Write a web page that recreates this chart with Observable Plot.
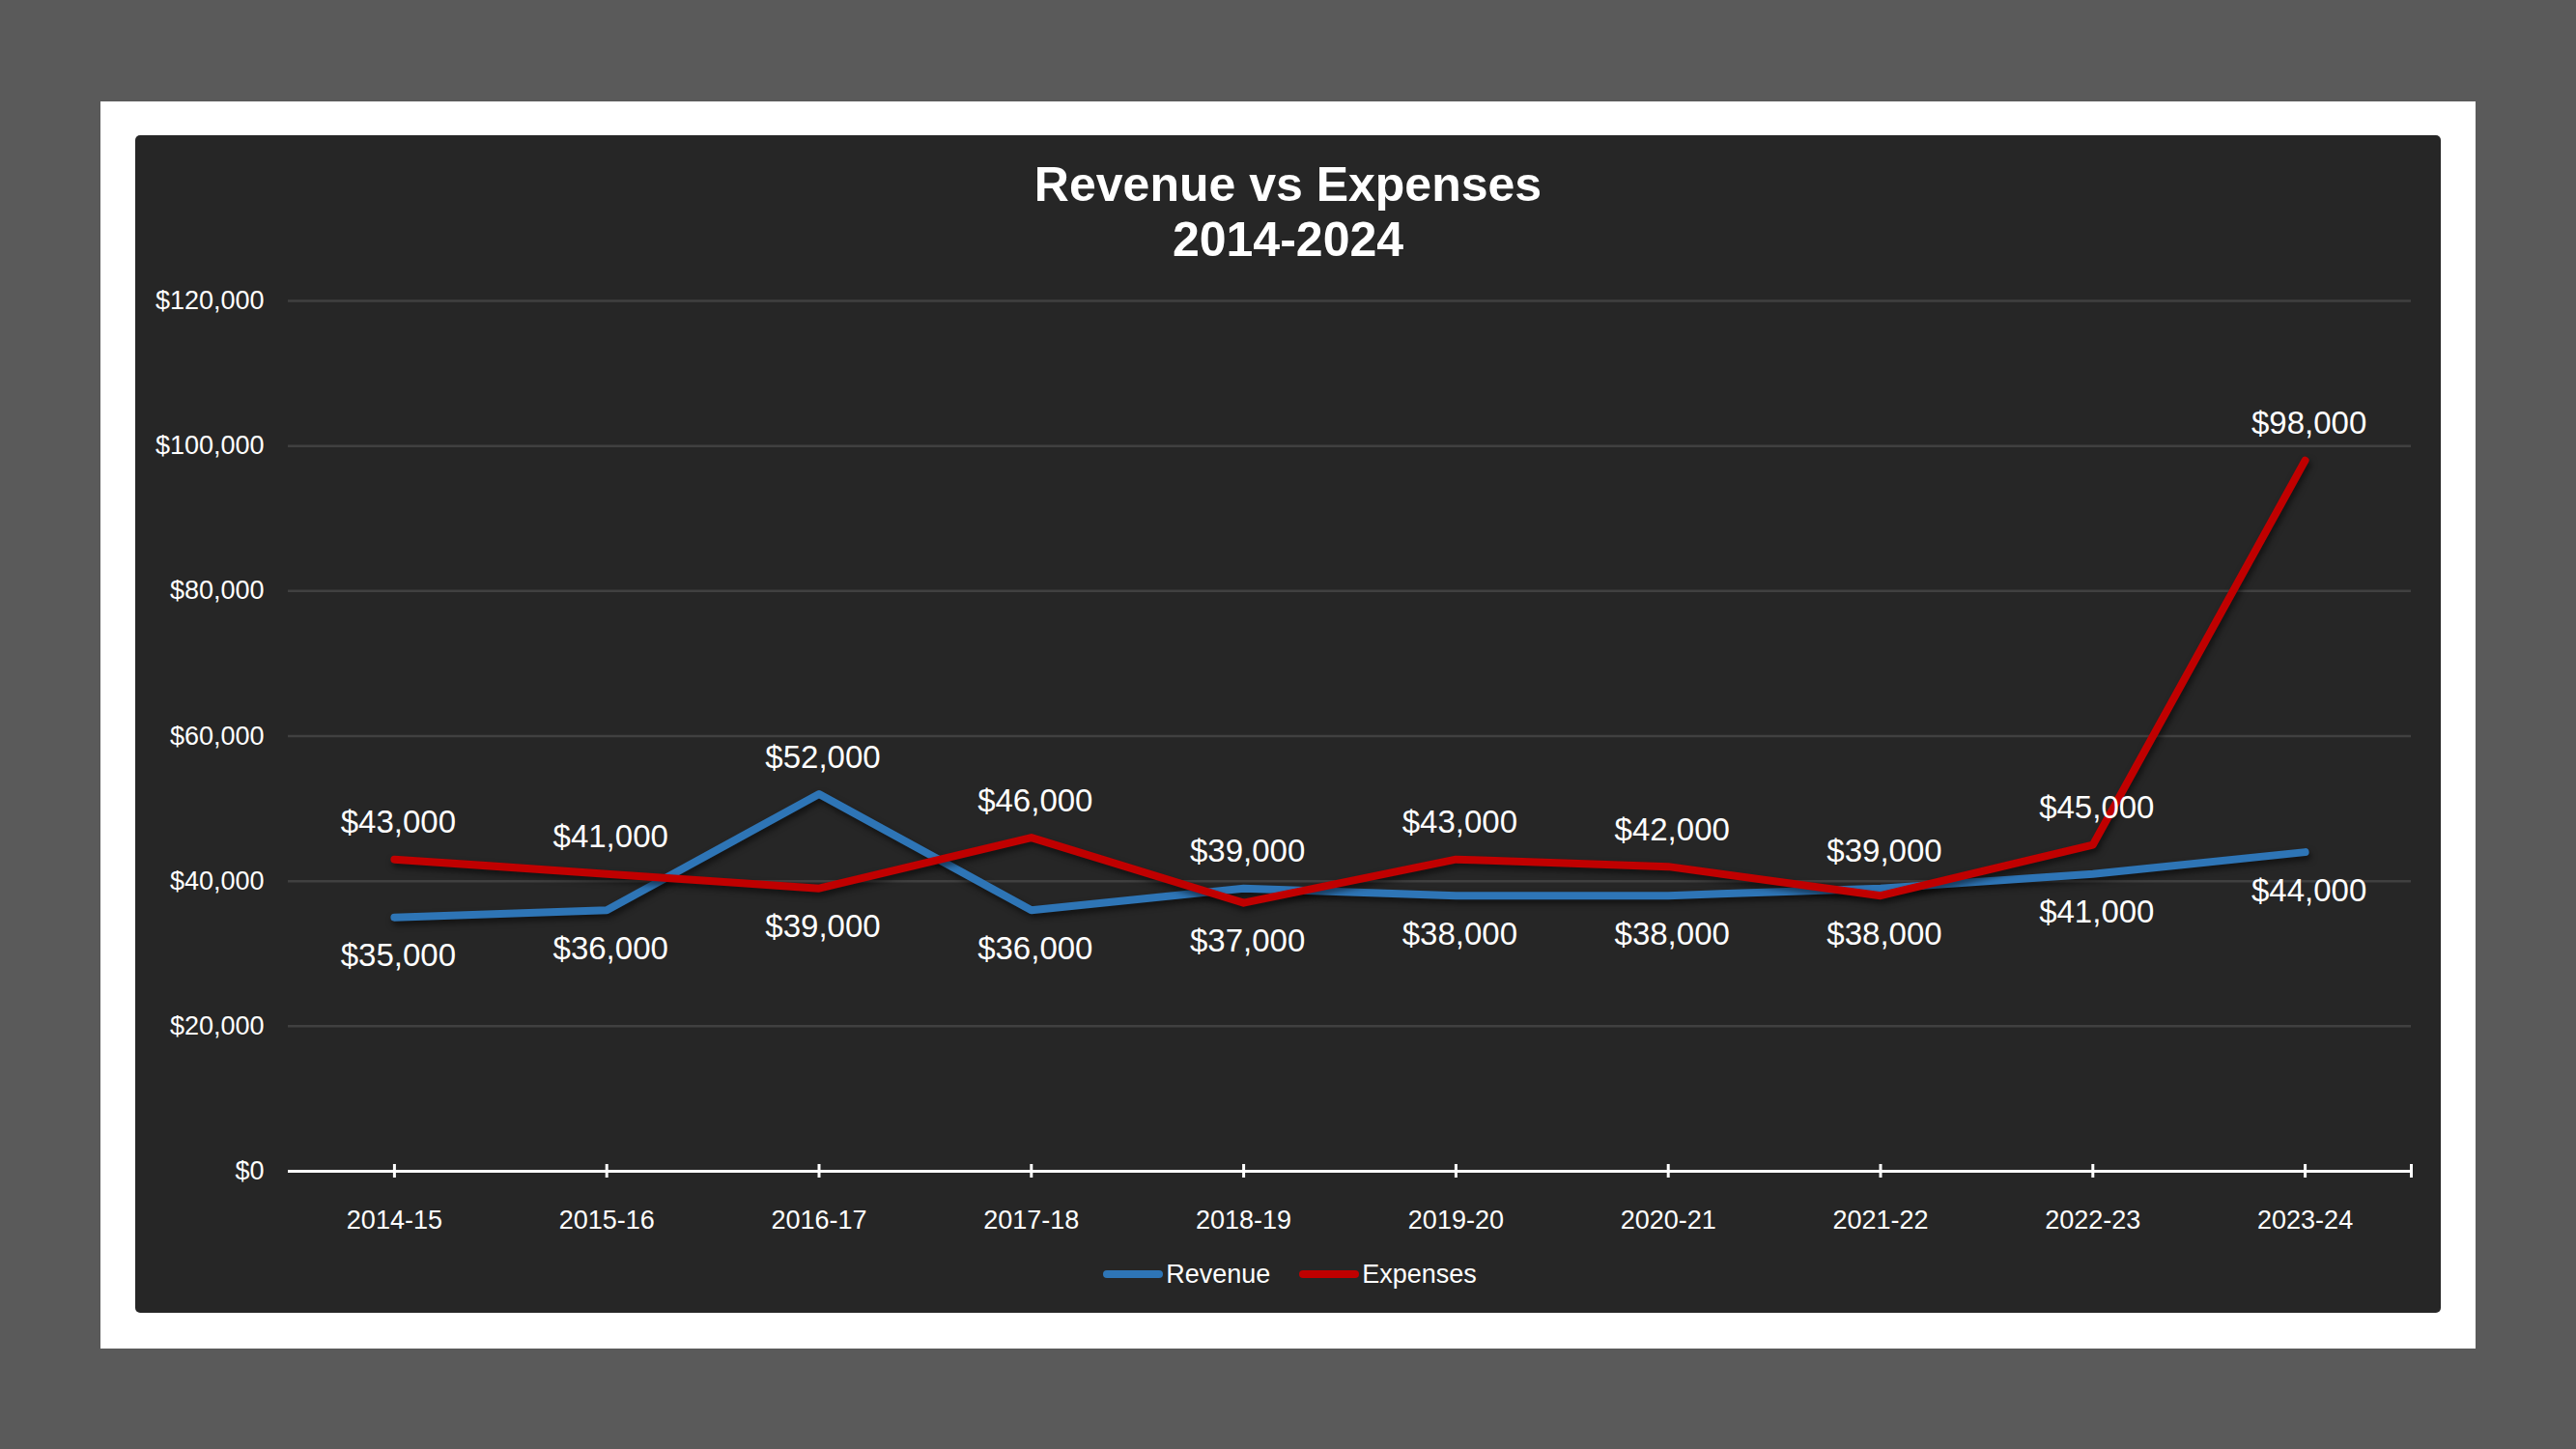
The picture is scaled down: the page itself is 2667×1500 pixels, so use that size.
<!DOCTYPE html>
<html>
<head>
<meta charset="utf-8">
<script src="https://cdn.jsdelivr.net/npm/d3@7"></script>
<script src="https://cdn.jsdelivr.net/npm/@observablehq/plot@0.6"></script>
<style>
  html, body { margin: 0; padding: 0; }
  body { width: 2667px; height: 1500px; background: #5a5a5a; position: relative; overflow: hidden;
         font-family: "Liberation Sans", Arial, sans-serif; }
  #frame { position: absolute; left: 104px; top: 105px; width: 2459px; height: 1291px; background: #ffffff; }
  #card { position: absolute; left: 140px; top: 140px; width: 2387px; height: 1219px; background: #262626; border-radius: 5px; }
  #title { position: absolute; left: 0; top: 23px; width: 100%; text-align: center; color: #ffffff;
           font-weight: bold; font-size: 50px; line-height: 57px; }
  #chart { position: absolute; left: 0; top: 140px; }
  #legend { position: absolute; left: 2px; top: 1164px; width: 100%; display: flex; justify-content: center;
            align-items: center; font-size: 27px; line-height: 30px; color: #ffffff; }
  .item { display: flex; align-items: center; margin: 0 15px; }
  .sw { display: inline-block; width: 62px; height: 8px; border-radius: 4px; margin-right: 3px; }
  g[aria-label="line"] path { filter: drop-shadow(2px 4px 3px rgba(0,0,0,0.55)); }
</style>
</head>
<body>
<div id="frame"></div>
<div id="card">
  <div id="title">Revenue vs Expenses<br>2014-2024</div>
  <div id="chart"></div>
  <div id="legend"></div>
</div>
<script>
const categories = ["2014-15","2015-16","2016-17","2017-18","2018-19","2019-20","2020-21","2021-22","2022-23","2023-24"];
const revenue  = [35000, 36000, 52000, 36000, 39000, 38000, 38000, 39000, 41000, 44000];
const expenses = [43000, 41000, 39000, 46000, 37000, 43000, 42000, 38000, 45000, 98000];
const seriesNames = ["Revenue", "Expenses"];
const yTicks = [0, 20000, 40000, 60000, 80000, 100000, 120000];

const colors = {Revenue: "#2e75b6", Expenses: "#c00000"};

const rows = [];
categories.forEach((c, i) => {
  rows.push({category: c, series: "Revenue", value: revenue[i], above: revenue[i] > expenses[i]});
  rows.push({category: c, series: "Expenses", value: expenses[i], above: expenses[i] >= revenue[i]});
});
const revRows = rows.filter(d => d.series === "Revenue");
const expRows = rows.filter(d => d.series === "Expenses");
const fmt = d3.format("$,");

const W = 2387, H = 1010, ML = 158, MR = 31, MT = 31, MB = 78;
const halfStep = (W - ML - MR) / categories.length / 2;

const chart = Plot.plot({
  width: W,
  height: H,
  marginLeft: ML,
  marginRight: MR,
  marginTop: MT,
  marginBottom: MB,
  style: {background: "transparent", color: "#ffffff", fontFamily: "'Liberation Sans', Arial, sans-serif", fontSize: "27px", overflow: "visible"},
  x: {type: "point", domain: categories, padding: 0.5, round: false},
  y: {domain: [0, 120000]},
  marks: [
    Plot.ruleY(yTicks.filter(t => t > 0), {stroke: "#404040", strokeWidth: 2.5}),
    Plot.axisY(yTicks, {tickSize: 0, tickPadding: 25, tickFormat: fmt, fill: "#ffffff", fontSize: 27, label: null}),
    Plot.axisX(categories, {tickSize: 0, tickPadding: 40, fill: "#ffffff", fontSize: 27, label: null}),
    Plot.ruleY([0], {stroke: "#ffffff", strokeWidth: 3}),
    Plot.ruleX(categories, {x: d => d, y1: 0, y2: 0, insetTop: -7, insetBottom: -7, stroke: "#ffffff", strokeWidth: 3}),
    Plot.ruleX(categories.slice(-1), {x: d => d, y1: 0, y2: 0, dx: halfStep, insetTop: -7, insetBottom: -7, stroke: "#ffffff", strokeWidth: 3}),
    Plot.line(revRows, {x: "category", y: "value", stroke: colors.Revenue, strokeWidth: 8, strokeLinecap: "round", strokeLinejoin: "round"}),
    Plot.line(expRows, {x: "category", y: "value", stroke: colors.Expenses, strokeWidth: 8, strokeLinecap: "round", strokeLinejoin: "round"}),
    Plot.text(rows.filter(d => d.above), {x: "category", y: "value", text: d => fmt(d.value), dx: 4, dy: -38, fill: "#ffffff", fontSize: 33}),
    Plot.text(rows.filter(d => !d.above), {x: "category", y: "value", text: d => fmt(d.value), dx: 4, dy: 40, fill: "#ffffff", fontSize: 33})
  ]
});
document.getElementById("chart").appendChild(chart);

const legend = document.getElementById("legend");
seriesNames.forEach(name => {
  const item = document.createElement("div");
  item.className = "item";
  const sw = document.createElement("span");
  sw.className = "sw";
  sw.style.background = colors[name];
  const label = document.createElement("span");
  label.textContent = name;
  item.appendChild(sw);
  item.appendChild(label);
  legend.appendChild(item);
});
</script>
</body>
</html>
